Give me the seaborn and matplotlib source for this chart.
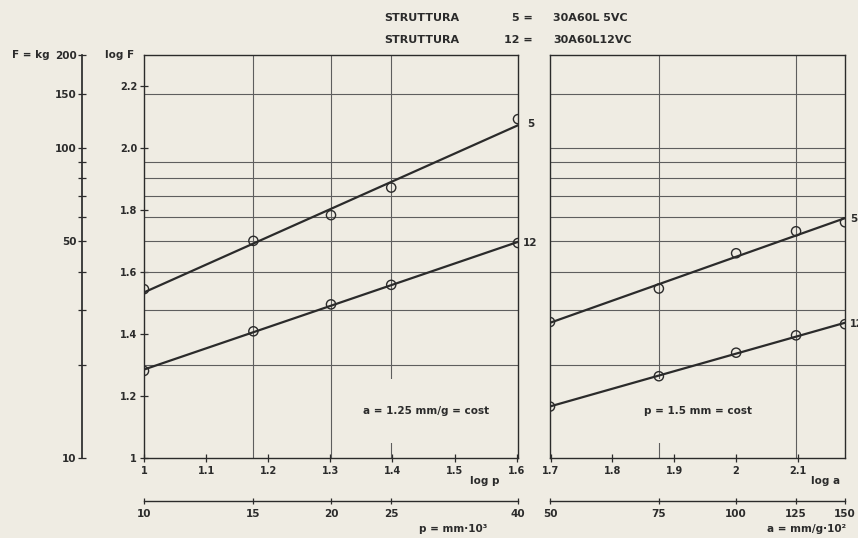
import numpy as np
import pandas as pd
import matplotlib
matplotlib.use("Agg")
import matplotlib.pyplot as plt
import seaborn as sns

# --- data -------------------------------------------------------------
# breaking load vs. pitch p (a = 1.25 mm/g constant)
p_values = [10, 15, 20, 25, 40]
logF_p_s5 = [1.545, 1.701, 1.784, 1.873, 2.094]
logF_p_s12 = [1.281, 1.409, 1.496, 1.559, 1.694]

# breaking load vs. a (p = 1.5 mm constant)
a_values = [50, 75, 100, 125, 150]
logF_a_s5 = [1.439, 1.547, 1.661, 1.732, 1.761]
logF_a_s12 = [1.166, 1.264, 1.340, 1.396, 1.432]

series_names = ["5", "12"]

# scales and grids
F_grid = [20, 30, 40, 50, 60, 70, 80, 90, 100, 150]
F_ticks = [10, 20, 30, 40, 50, 60, 70, 80, 90, 100, 150, 200]
F_labelled = [10, 50, 100, 150, 200]
logF_ticks = [1, 1.2, 1.4, 1.6, 1.8, 2.0, 2.2]
logF_labels = ["1", "1.2", "1.4", "1.6", "1.8", "2.0", "2.2"]
logp_ticks = [1, 1.1, 1.2, 1.3, 1.4, 1.5, 1.6]
logp_labels = ["1", "1.1", "1.2", "1.3", "1.4", "1.5", "1.6"]
loga_ticks = [1.7, 1.8, 1.9, 2.0, 2.1]
loga_labels = ["1.7", "1.8", "1.9", "2", "2.1"]
p_grid = [15, 20, 25]
a_grid = [75, 100, 125]
F_top = 200

# --- style --------------------------------------------------------------
sns.set_theme(style="white")
paper = "#efece3"
ink = "#2b2b2b"
grid_c = "#5e5e5e"
plt.rcParams["font.family"] = ["DejaVu Sans"]
plt.rcParams["font.weight"] = "bold"
plt.rcParams["text.color"] = ink
plt.rcParams["axes.edgecolor"] = ink
plt.rcParams["xtick.color"] = ink
plt.rcParams["ytick.color"] = ink

W, H = 858, 538
fig = plt.figure(figsize=(W / 100, H / 100), dpi=100, facecolor=paper)


def px_axes(x0, y0, x1, y1):
    return fig.add_axes([x0 / W, 1 - y1 / H, (x1 - x0) / W, (y1 - y0) / H])


ylim = (1, np.log10(F_top))
tick_kw = dict(direction="inout", length=6, width=0.9, colors=ink,
               labelsize=7, labelcolor=ink)


def panel(ax, xs, s5, s12, xgrid, xticks, xlabels):
    ax.set_facecolor(paper)
    lx = np.log10(xs)
    ax.set_xlim(lx[0], lx[-1])
    ax.set_ylim(*ylim)
    for sp in ax.spines.values():
        sp.set_color(ink)
        sp.set_linewidth(1.0)
    ax.set_xticks(xticks)
    ax.set_xticklabels(xlabels)
    ax.set_xticks(np.log10(xgrid), minor=True)
    ax.set_yticks(np.log10(F_grid), minor=True)
    ax.tick_params(which="minor", length=0)
    ax.tick_params(axis="x", which="major", bottom=True, pad=3, **tick_kw)
    ax.grid(which="minor", color=grid_c, linewidth=0.8)
    ax.grid(which="major", visible=False)
    ax.set_axisbelow(True)
    for ys in (s5, s12):
        sns.regplot(x=lx, y=np.array(ys), ax=ax, ci=None, scatter=False,
                    line_kws=dict(color=ink, linewidth=1.6, zorder=3))
        sns.scatterplot(x=lx, y=ys, ax=ax, marker="o", s=44,
                        facecolors="none", edgecolors=ink, linewidths=1.0,
                        zorder=4, legend=False)
    ax.set_xlabel("")
    ax.set_ylabel("")
    return lx


# left panel: log p
axL = px_axes(144, 55, 518, 458)
lxp = panel(axL, p_values, logF_p_s5, logF_p_s12, p_grid, logp_ticks, logp_labels)
axL.set_yticks(logF_ticks)
axL.set_yticklabels(logF_labels)
axL.tick_params(axis="y", which="major", left=True, pad=2, **tick_kw)
axL.annotate(series_names[0], (lxp[-1], logF_p_s5[-1]), xytext=(6.5, -3.6),
             textcoords="offset points", ha="left", va="center", fontsize=7.5,
             annotation_clip=False)
axL.annotate(series_names[1], (lxp[-1], logF_p_s12[-1]), xytext=(3.6, 0),
             textcoords="offset points", ha="left", va="center", fontsize=7.5,
             annotation_clip=False)
axL.text(0.755, 0.117, "a = 1.25 mm/g = cost", transform=axL.transAxes,
         ha="center", va="center", fontsize=7.5,
         bbox=dict(boxstyle="square,pad=2.6", fc=paper, ec="none"), zorder=2)

# right panel: log a
axR = px_axes(550, 55, 845, 458)
lxa = panel(axR, a_values, logF_a_s5, logF_a_s12, a_grid, loga_ticks, loga_labels)
axR.set_yticks([])
axR.annotate(series_names[0], (lxa[-1], logF_a_s5[-1]), xytext=(3.6, 2),
             textcoords="offset points", ha="left", va="center", fontsize=7.5,
             annotation_clip=False)
axR.annotate(series_names[1], (lxa[-1], logF_a_s12[-1]), xytext=(3.2, 0),
             textcoords="offset points", ha="left", va="center", fontsize=7,
             annotation_clip=False)
axR.text(0.5, 0.117, "p = 1.5 mm = cost", transform=axR.transAxes,
         ha="center", va="center", fontsize=7.5,
         bbox=dict(boxstyle="square,pad=2.6", fc=paper, ec="none"), zorder=2)


def scale_bar(ax, values):
    ax.patch.set_alpha(0)
    lv = np.log10(values)
    ax.set_xlim(lv[0], lv[-1])
    ax.set_ylim(0, 1)
    for name, sp in ax.spines.items():
        sp.set_visible(name == "bottom")
    ax.spines["bottom"].set_color(ink)
    ax.spines["bottom"].set_linewidth(1.0)
    ax.set_yticks([])
    ax.set_xticks(lv)
    ax.set_xticklabels([str(v) for v in values])
    ax.tick_params(axis="x", bottom=True, direction="inout", length=5, width=0.9,
                   colors=ink, labelsize=7.5, pad=3)


# secondary scales in natural units under each panel
scale_bar(px_axes(144, 500, 518, 501), p_values)
scale_bar(px_axes(550, 500, 845, 501), a_values)

# F scale in kg on the far left
axF = px_axes(82, 55, 83, 458)
axF.patch.set_alpha(0)
axF.set_ylim(*ylim)
axF.set_xlim(0, 1)
for name, sp in axF.spines.items():
    sp.set_visible(name == "left")
axF.spines["left"].set_color(ink)
axF.set_xticks([])
axF.set_yticks(np.log10(F_ticks))
axF.set_yticklabels([str(f) if f in F_labelled else "" for f in F_ticks])
axF.tick_params(axis="y", left=True, direction="inout", length=6, width=0.9,
                colors=ink, labelsize=7.5, pad=1)

# axis captions
fig.text(31 / W, 1 - 55 / H, "F = kg", ha="center", va="center", fontsize=7.5)
fig.text(120 / W, 1 - 55 / H, "log F", ha="center", va="center", fontsize=7.5)
fig.text(485 / W, 1 - 481 / H, "log p", ha="center", va="center", fontsize=7.5)
fig.text(826 / W, 1 - 481 / H, "log a", ha="center", va="center", fontsize=7.5)
fig.text(453 / W, 1 - 529 / H, "p = mm·10³", ha="center", va="center", fontsize=7.5)
fig.text(807 / W, 1 - 529 / H, "a = mm/g·10²", ha="center", va="center", fontsize=7.5)

# header
for yy, num, code in [(18, "5 =", "30A60L 5VC"), (40, "12 =", "30A60L12VC")]:
    fig.text(384 / W, 1 - yy / H, "STRUTTURA", ha="left", va="center", fontsize=8)
    fig.text(533 / W, 1 - yy / H, num, ha="right", va="center", fontsize=8)
    fig.text(553 / W, 1 - yy / H, code, ha="left", va="center", fontsize=8)

fig.savefig("out.png", dpi=100, facecolor=paper)
